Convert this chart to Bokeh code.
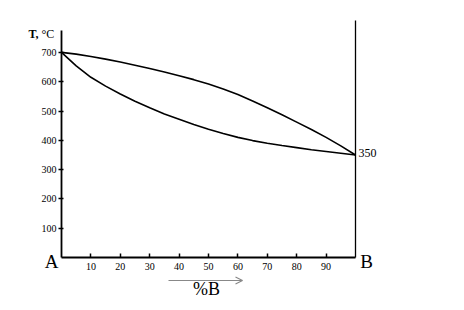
from bokeh.plotting import figure
from bokeh.models import FixedTicker, Label, Arrow, OpenHead, Range1d, LinearAxis
from bokeh.embed import file_html
from bokeh.resources import INLINE

# data (at 5 % steps)
pct_b = [0, 5, 10, 15, 20, 25, 30, 35, 40, 45, 50, 55, 60, 65, 70, 75, 80, 85, 90, 95, 100]
liquidus = [700, 694, 686, 677, 667, 656, 645, 633, 620, 607, 592, 575, 556, 534, 511,
            487, 462, 437, 410, 381, 350]
solidus = [700, 654, 615, 585, 558, 533, 511, 490, 472, 454, 438, 423, 410, 399, 390,
           382, 375, 368, 362, 356, 350]
x_ticks = [10, 20, 30, 40, 50, 60, 70, 80, 90]
y_ticks = [100, 200, 300, 400, 500, 600, 700]

SERIF = "Liberation Serif"
W, H = 464, 310
# pixel -> data mapping for the full canvas frame
X0, XS = 61, 2.94     # px of 0 % B, px per % B
Y0, YS = 257, 0.293   # px of 0 degC, px per degC


def dx(px):
    return (px - X0) / XS


def dy(py):
    return (Y0 - py) / YS


p = figure(width=W, height=H, output_backend="svg", toolbar_location=None,
           x_range=Range1d(dx(0), dx(W)), y_range=Range1d(dy(H), dy(0)),
           x_axis_type=None, y_axis_type=None,
           min_border=0, min_border_left=0, min_border_right=0,
           min_border_top=0, min_border_bottom=0)
p.grid.visible = False
p.outline_line_color = None
p.background_fill_color = "white"
p.border_fill_color = "white"

xa = LinearAxis(fixed_location=0, bounds=(0, 100), ticker=FixedTicker(ticks=x_ticks))
xa.axis_line_color = "black"
xa.axis_line_width = 1.8
xa.major_tick_in = 4
xa.major_tick_out = 0
xa.major_tick_line_width = 1.5
xa.minor_tick_line_color = None
xa.major_label_text_font = SERIF
xa.major_label_text_font_size = "10px"
xa.major_label_text_color = "black"
xa.major_label_standoff = 5
p.add_layout(xa, "below")

ya = LinearAxis(fixed_location=0, bounds=(0, 775), ticker=FixedTicker(ticks=y_ticks))
ya.axis_line_color = "black"
ya.axis_line_width = 1.8
ya.major_tick_in = 2
ya.major_tick_out = 3
ya.major_tick_line_width = 1.5
ya.minor_tick_line_color = None
ya.major_label_text_font = SERIF
ya.major_label_text_font_size = "10px"
ya.major_label_text_color = "black"
ya.major_label_standoff = 2
p.add_layout(ya, "left")

# right vertical line at 100 % B
ra = LinearAxis(fixed_location=100, bounds=(0, dy(20)), ticker=FixedTicker(ticks=[]))
ra.axis_line_color = "black"
ra.axis_line_width = 1.3
ra.major_tick_line_color = None
ra.minor_tick_line_color = None
ra.major_label_text_font_size = "0px"
p.add_layout(ra, "right")

p.line(pct_b, liquidus, line_color="black", line_width=1.6)
p.line(pct_b, solidus, line_color="black", line_width=1.6)


def lab(px, py, text, size, align="center", baseline="middle", style="normal"):
    p.add_layout(Label(x=dx(px), y=dy(py), text=text,
                       text_font=SERIF, text_font_size=size, text_font_style=style,
                       text_align=align, text_baseline=baseline, text_color="black"))


lab(51, 261, "A", "19px")
lab(366, 261, "B", "19px")
lab(206, 288, "%B", "18px")
lab(358, 152, "350", "12px", align="left")
lab(38, 33, "T,", "12px", align="right", style="bold")
lab(41, 33, "°C", "12px", align="left")

p.add_layout(Arrow(end=OpenHead(size=7, line_color="#888888", line_width=1.2),
                   x_start=dx(168), y_start=dy(280), x_end=dx(242), y_end=dy(280),
                   line_color="#888888", line_width=1.2))

open("out.html", "w").write(file_html(p, INLINE))
